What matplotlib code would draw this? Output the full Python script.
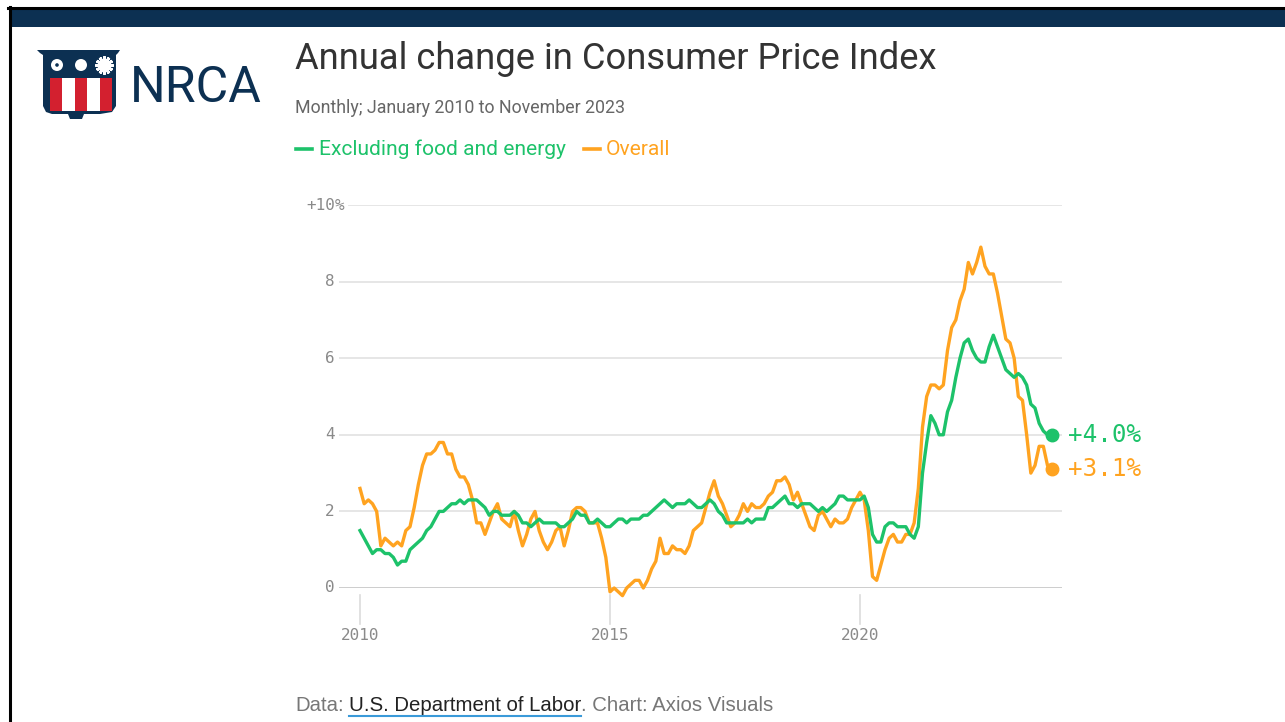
import matplotlib.pyplot as plt
from matplotlib.patches import Rectangle, Polygon, Circle
from matplotlib.lines import Line2D
import numpy as np

# CPI, year-over-year % change, monthly Jan 2010 .. Nov 2023
overall = [2.6, 2.2, 2.3, 2.2, 2.0, 1.1, 1.3, 1.2, 1.1, 1.2, 1.1, 1.5,
           1.6, 2.1, 2.7, 3.2, 3.5, 3.5, 3.6, 3.8, 3.8, 3.5, 3.5, 3.1,
           2.9, 2.9, 2.7, 2.3, 1.7, 1.7, 1.4, 1.7, 2.0, 2.2, 1.8, 1.7,
           1.6, 2.0, 1.5, 1.1, 1.4, 1.8, 2.0, 1.5, 1.2, 1.0, 1.2, 1.5,
           1.6, 1.1, 1.5, 2.0, 2.1, 2.1, 2.0, 1.7, 1.7, 1.7, 1.3, 0.8,
           -0.1, 0.0, -0.1, -0.2, 0.0, 0.1, 0.2, 0.2, 0.0, 0.2, 0.5, 0.7,
           1.3, 0.9, 0.9, 1.1, 1.0, 1.0, 0.9, 1.1, 1.5, 1.6, 1.7, 2.1,
           2.5, 2.8, 2.4, 2.2, 1.9, 1.6, 1.7, 1.9, 2.2, 2.0, 2.2, 2.1,
           2.1, 2.2, 2.4, 2.5, 2.8, 2.8, 2.9, 2.7, 2.3, 2.5, 2.2, 1.9,
           1.6, 1.5, 1.9, 2.0, 1.8, 1.6, 1.8, 1.7, 1.7, 1.8, 2.1, 2.3,
           2.5, 2.3, 1.5, 0.3, 0.2, 0.6, 1.0, 1.3, 1.4, 1.2, 1.2, 1.4,
           1.4, 1.7, 2.6, 4.2, 5.0, 5.3, 5.3, 5.2, 5.3, 6.2, 6.8, 7.0,
           7.5, 7.8, 8.5, 8.2, 8.5, 8.9, 8.4, 8.2, 8.2, 7.7, 7.1, 6.5,
           6.4, 6.0, 5.0, 4.9, 4.0, 3.0, 3.2, 3.7, 3.7, 3.2, 3.1]

core = [1.5, 1.3, 1.1, 0.9, 1.0, 1.0, 0.9, 0.9, 0.8, 0.6, 0.7, 0.7,
        1.0, 1.1, 1.2, 1.3, 1.5, 1.6, 1.8, 2.0, 2.0, 2.1, 2.2, 2.2,
        2.3, 2.2, 2.3, 2.3, 2.3, 2.2, 2.1, 1.9, 2.0, 2.0, 1.9, 1.9,
        1.9, 2.0, 1.9, 1.7, 1.7, 1.6, 1.7, 1.8, 1.7, 1.7, 1.7, 1.7,
        1.6, 1.6, 1.7, 1.8, 2.0, 1.9, 1.9, 1.7, 1.7, 1.8, 1.7, 1.6,
        1.6, 1.7, 1.8, 1.8, 1.7, 1.8, 1.8, 1.8, 1.9, 1.9, 2.0, 2.1,
        2.2, 2.3, 2.2, 2.1, 2.2, 2.2, 2.2, 2.3, 2.2, 2.1, 2.1, 2.2,
        2.3, 2.2, 2.0, 1.9, 1.7, 1.7, 1.7, 1.7, 1.7, 1.8, 1.7, 1.8,
        1.8, 1.8, 2.1, 2.1, 2.2, 2.3, 2.4, 2.2, 2.2, 2.1, 2.2, 2.2,
        2.2, 2.1, 2.0, 2.1, 2.0, 2.1, 2.2, 2.4, 2.4, 2.3, 2.3, 2.3,
        2.3, 2.4, 2.1, 1.4, 1.2, 1.2, 1.6, 1.7, 1.7, 1.6, 1.6, 1.6,
        1.4, 1.3, 1.6, 3.0, 3.8, 4.5, 4.3, 4.0, 4.0, 4.6, 4.9, 5.5,
        6.0, 6.4, 6.5, 6.2, 6.0, 5.9, 5.9, 6.3, 6.6, 6.3, 6.0, 5.7,
        5.6, 5.5, 5.6, 5.5, 5.3, 4.8, 4.7, 4.3, 4.1, 4.0, 4.0]

start_year = 2010
x = start_year + np.arange(len(overall)) / 12.0

yticks = [0, 2, 4, 6, 8, 10]
xticks = [2010, 2015, 2020]
legend_labels = ['Excluding food and energy', 'Overall']

green = '#1dc26a'
orange = '#ffa320'
navy = '#0c3052'
red = '#d3202f'

W, H = 1285, 722
fig = plt.figure(figsize=(W / 100, H / 100), dpi=100)

def fx(px):
    return px / W

def fy(py):
    return 1 - py / H

# frame and top bar
fig.add_artist(Line2D([fx(9.5), fx(9.5)], [fy(7), 0], color='black', lw=2.2))
fig.add_artist(Line2D([fx(8), 1], [fy(7.5), fy(7.5)], color='black', lw=2.2))
fig.add_artist(Rectangle((fx(11), fy(27)), 1 - fx(11), fy(9) - fy(27),
                         transform=fig.transFigure, facecolor=navy, edgecolor='none'))

# logo
lg = fig.add_axes([fx(30), fy(125), 100 / W, 80 / H])
lg.set_xlim(30, 130)
lg.set_ylim(125, 45)
lg.axis('off')
shield = [(37, 50), (120, 50), (118, 53), (116, 55), (116, 106), (112, 112),
          (100, 114), (84, 114), (82, 119), (70, 119), (68, 114), (52, 114),
          (46, 112), (43, 106), (43, 55), (40, 53)]
lg.add_patch(Polygon(shield, closed=True, facecolor=navy, edgecolor='none'))
for i, c in enumerate([red, 'white', red, 'white', red]):
    lg.add_patch(Rectangle((50 + i * 12.4, 78), 12.4, 33, facecolor=c, edgecolor='none'))
lg.add_patch(Circle((57, 65), 6.0, facecolor='white', edgecolor='none'))
lg.add_patch(Circle((57, 65), 1.8, facecolor=navy, edgecolor='none'))
lg.add_patch(Circle((81, 65), 6.0, facecolor='white', edgecolor='none'))
lg.plot(104, 65, marker=(12, 2, 0), ms=13, mec='white', mew=2.0)
fig.text(fx(130), fy(102), 'NRCA', family='Roboto', fontsize=36, color=navy,
         va='baseline')

# header
fig.text(fx(295), fy(69), 'Annual change in Consumer Price Index', family='Roboto',
         fontsize=26.2, color='#333333', va='baseline')
fig.text(fx(295), fy(113), 'Monthly; January 2010 to November 2023', family='Roboto',
         fontsize=12.75, color='#666666', va='baseline')

fig.add_artist(Line2D([fx(296), fx(312)], [fy(149), fy(149)], color=green, lw=2.6))
fig.text(fx(319), fy(155), legend_labels[0], family='Roboto', fontsize=15.1,
         color=green, va='baseline')
fig.add_artist(Line2D([fx(584), fx(600)], [fy(149), fy(149)], color=orange, lw=2.6))
fig.text(fx(606), fy(155), legend_labels[1], family='Roboto', fontsize=15.1,
         color=orange, va='baseline')

# chart
ax = fig.add_axes([fx(339), fy(588), (1062 - 339) / W, (588 - 205) / H])
ax.set_xlim(2010 + (339 - 360) / 50, 2010 + (1062 - 360) / 50)
ax.set_ylim(0, 10)
for s in ax.spines.values():
    s.set_visible(False)
ax.set_xticks([])
ax.set_yticks([])

for v in yticks[1:]:
    xmin = (349 - 339) / (1062 - 339) if v == 10 else 0
    ax.axhline(v, xmin=xmin, color='#e4e4e4', lw=1.3, zorder=0)
ax.axhline(0, color='#bfbfbf', lw=1.8, zorder=1)

mono = 'DejaVu Sans Mono'
tick_fs = 11.5
for v in yticks:
    lab = '+%d' % v if v == 10 else str(v)
    ax.annotate(lab, xy=(0, v), xycoords=ax.get_yaxis_transform(), xytext=(-3, 0),
                textcoords='offset points', ha='right', va='center', family=mono,
                fontsize=tick_fs, color='#8a8a8a', annotation_clip=False)
    if v == 10:
        ax.annotate('%', xy=(0, v), xycoords=ax.get_yaxis_transform(), xytext=(-3, 0),
                    textcoords='offset points', ha='left', va='center', family=mono,
                    fontsize=tick_fs, color='#8a8a8a', annotation_clip=False)

ypx = 383.0
for t in xticks:
    ax.plot([t, t], [-(595 - 588) / ypx, -(624 - 588) / ypx], transform=ax.get_xaxis_transform(),
            color='#dcdcdc', lw=1.2, clip_on=False)
    ax.text(t, -(635 - 588) / ypx, str(t), transform=ax.get_xaxis_transform(), ha='center',
            va='center', family=mono, fontsize=tick_fs, color='#8a8a8a')

ax.plot(x, overall, color=orange, lw=2.4, clip_on=False, zorder=3)
ax.plot(x, core, color=green, lw=2.4, clip_on=False, zorder=4)
ax.plot(x[-1], overall[-1], 'o', ms=9, color=orange, clip_on=False, zorder=5)
ax.plot(x[-1], core[-1], 'o', ms=9, color=green, clip_on=False, zorder=5)
ax.annotate('+%.1f%%' % core[-1], xy=(x[-1], core[-1]), xytext=(11.5, 0), textcoords='offset points',
            va='center', family=mono, fontsize=17.5, color=green, annotation_clip=False)
ax.annotate('+%.1f%%' % overall[-1], xy=(x[-1], overall[-1]), xytext=(11.5, 0), textcoords='offset points',
            va='center', family=mono, fontsize=17.5, color=orange, annotation_clip=False)

# footer
foot = dict(family='Liberation Sans', fontsize=14.7)
t1 = fig.text(fx(295), fy(711), 'Data:', color='#777777', va='baseline', **foot)
t2 = ax.annotate('U.S. Department of Labor', xy=(1, 0), xycoords=t1, xytext=(4, 0),
                 textcoords='offset points', va='bottom', color='#222222',
                 annotation_clip=False, **foot)
t3 = ax.annotate('. Chart: Axios Visuals', xy=(1, 0), xycoords=t2, va='bottom',
                 color='#777777', annotation_clip=False, **foot)

fig.canvas.draw()
bb = t2.get_window_extent()
fig.add_artist(Line2D([bb.x0 / W, bb.x1 / W], [fy(715.5), fy(715.5)], color='#3a9ad9', lw=1.5))

fig.savefig('out.png', dpi=100)
